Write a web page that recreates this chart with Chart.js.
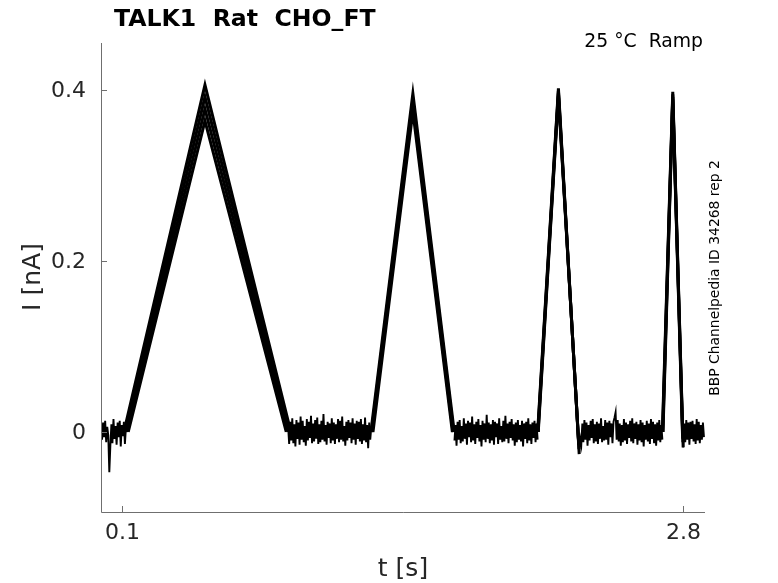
<!DOCTYPE html>
<html>
<head>
<meta charset="utf-8">
<script src="https://cdn.jsdelivr.net/npm/chart.js@4.4.1/dist/chart.umd.min.js"></script>
<style>
  html, body { margin: 0; padding: 0; background: #fff; }
  #wrap { width: 778px; height: 583px; position: relative; }
</style>
</head>
<body>
<div id="wrap"><canvas id="trace" width="778" height="583"></canvas></div>
<script>
// ---- data (current in pA for the baseline noise, nA for ramps; time in s) ----
const xTicks = [0.1, 2.8];
const yTicks = [0, 0.2, 0.4];
const yTickLabels = ['0', '0.2', '0.4'];

const sampleStep = 0.005;
const baselineStarts = [0, 0.9, 1.7, 2.3, 2.8];

const baseline0 = [4,-9,11,-6,13,-12,6,-4,-47,-16,9,-13,15,-8,7,-15,11,-6,13,-17,8,-5,12,-14,5,2];
const baseline1 = [6,-14,12,-10,16,-13,9,-17,14,-8,11,-15,18,-9,13,-12,7,-16,15,-10,12,-7,19,-13,10,-11,14,-8,17,-14,9,-12,13,-9,21,-11,8,-15,12,-7,10,-13,16,-10,11,-14,9,-8,15,-12,13,-9,18,-11,7,-16,12,-10,14,-7,11,-13,16,-9,10,-15,13,-8,12,-11,15,-14,9,-10,17,-12,8,-19,11,-9,6];
const baseline2 = [-10,8,-16,12,-9,14,-13,7,-11,16,-8,10,-15,13,-6,11,-12,18,-10,9,-14,12,-7,15,-11,8,-17,13,-9,10,-12,20,-8,11,-13,9,-10,14,-15,12,-6,10,-14,16,-9,7,-12,13,-11,19,-8,10,-13,12,-7,15,-10,9,-16,11,-12,14,-9,8,-11,13,-17,10,-8,12,-13,16,-10,9,-14,11,-7,13,-12,10,-9];
const baseline3 = [-24,-8,-15,10,-12,14,-9,11,-16,8,-10,13,-7,15,-13,9,-11,12,-14,10,-8,16,-12,7,-10,14,-9,11,-15,13,-6,10,-13,12,17,23,-9,14,-11,10,-16,8,-12,15,-10,11,-14,9,-7,13,-11,16,-13,10,-8,12,-15,9,-10,14,-12,11,-17,8,-9,13,-11,10,-14,15,-8,12,-13,9,-16,11,-10,14,-12,8,-9];
const baseline4 = [-18,10,-12,14,-9,11,-15,12,-8,13,-11,9,-14,15,-10,12,-13,8,-9,11,-6];

// four repetitions of the ramp protocol
const rampPeakTimes = [0.5, 1.5, 2.2, 2.75];
const sweepStarts = [
  [0.110, 1.298, 2.100, 2.700],
  [0.117, 1.301, 2.101, 2.701],
  [0.124, 1.304, 2.102, 2.702],
  [0.131, 1.308, 2.103, 2.703]
];
const sweepPeaks = [
  [0.406, 0.396, 0.402, 0.398],
  [0.392, 0.389, 0.399, 0.395],
  [0.378, 0.382, 0.396, 0.392],
  [0.364, 0.375, 0.393, 0.389]
];
const sweepEnds = [
  [0.913, 1.699, 2.300, 2.800],
  [0.906, 1.696, 2.299, 2.799],
  [0.899, 1.693, 2.298, 2.798],
  [0.891, 1.690, 2.297, 2.797]
];
const sweepEndValues = [
  [0, 0, -0.026, -0.018],
  [0, 0, -0.020, -0.012],
  [0, 0, -0.015, -0.008],
  [0, 0, -0.010, -0.004]
];

const FONT = "'DejaVu Sans', sans-serif";

const baselines = [baseline0, baseline1, baseline2, baseline3, baseline4];
const datasets = [];

baselines.forEach((vals, k) => {
  datasets.push({
    data: vals.map((v, i) => ({ x: baselineStarts[k] + i * sampleStep, y: v / 1000 })),
    borderColor: '#000',
    borderWidth: 1.9,
    pointRadius: 0
  });
});

sweepStarts.forEach((starts, s) => {
  const pts = [];
  starts.forEach((t0, r) => {
    pts.push({ x: t0, y: 0 });
    pts.push({ x: rampPeakTimes[r], y: sweepPeaks[s][r] });
    pts.push({ x: sweepEnds[s][r], y: sweepEndValues[s][r] });
    pts.push({ x: sweepEnds[s][r] + 0.001, y: null });
  });
  datasets.push({
    data: pts,
    borderColor: '#000',
    borderWidth: 3,
    pointRadius: 0,
    spanGaps: false
  });
});

const axesPlugin = {
  id: 'matlabAxes',
  afterDraw(chart) {
    const ctx = chart.ctx;
    const xs = chart.scales.x, ys = chart.scales.y;
    const a = chart.chartArea;
    ctx.save();
    ctx.strokeStyle = '#6f6f6f';
    ctx.lineWidth = 1;
    ctx.beginPath();
    ctx.moveTo(a.left + 0.5, a.top);
    ctx.lineTo(a.left + 0.5, a.bottom + 0.5);
    ctx.lineTo(a.right, a.bottom + 0.5);
    ctx.stroke();

    ctx.fillStyle = '#262626';
    ctx.font = '22px ' + FONT;
    ctx.textAlign = 'right';
    ctx.textBaseline = 'middle';
    yTicks.forEach((v, i) => {
      const py = Math.round(ys.getPixelForValue(v)) + 0.5;
      ctx.beginPath();
      ctx.moveTo(a.left, py);
      ctx.lineTo(a.left + 6, py);
      ctx.stroke();
      ctx.fillText(yTickLabels[i], a.left - 15, py + 1);
    });
    ctx.textAlign = 'center';
    ctx.textBaseline = 'top';
    xTicks.forEach(v => {
      const px = Math.round(xs.getPixelForValue(v)) + 0.5;
      ctx.beginPath();
      ctx.moveTo(px, a.bottom);
      ctx.lineTo(px, a.bottom - 6);
      ctx.stroke();
      ctx.fillText(String(v), px, a.bottom + 10);
    });

    ctx.font = '25px ' + FONT;
    ctx.textBaseline = 'alphabetic';
    ctx.fillText('t [s]', (a.left + a.right) / 2, 576);
    ctx.save();
    ctx.translate(40, 277);
    ctx.rotate(-Math.PI / 2);
    ctx.fillText('I [nA]', 0, 0);
    ctx.restore();

    ctx.fillStyle = '#000';
    ctx.font = 'bold 23.6px ' + FONT;
    ctx.textAlign = 'left';
    ctx.fillText('TALK1  Rat  CHO_FT', 114, 26);

    ctx.font = '18.8px ' + FONT;
    ctx.textAlign = 'right';
    ctx.fillText('25 \u00B0C  Ramp', 703, 47);

    ctx.font = '13.9px ' + FONT;
    ctx.textAlign = 'center';
    ctx.save();
    ctx.translate(719, 278);
    ctx.rotate(-Math.PI / 2);
    ctx.fillText('BBP Channelpedia ID 34268 rep 2', 0, 0);
    ctx.restore();
    ctx.restore();
  }
};

new Chart(document.getElementById('trace').getContext('2d'), {
  type: 'line',
  data: { datasets: datasets },
  options: {
    responsive: false,
    animation: false,
    layout: { padding: { left: 101, right: 73, top: 43, bottom: 71 } },
    plugins: { legend: { display: false }, tooltip: { enabled: false } },
    elements: { line: { tension: 0, borderJoinStyle: 'miter' } },
    scales: {
      x: { type: 'linear', min: 0, max: 2.905, display: false },
      y: { type: 'linear', min: -0.0936, max: 0.455, display: false }
    }
  },
  plugins: [axesPlugin]
});
</script>
</body>
</html>
